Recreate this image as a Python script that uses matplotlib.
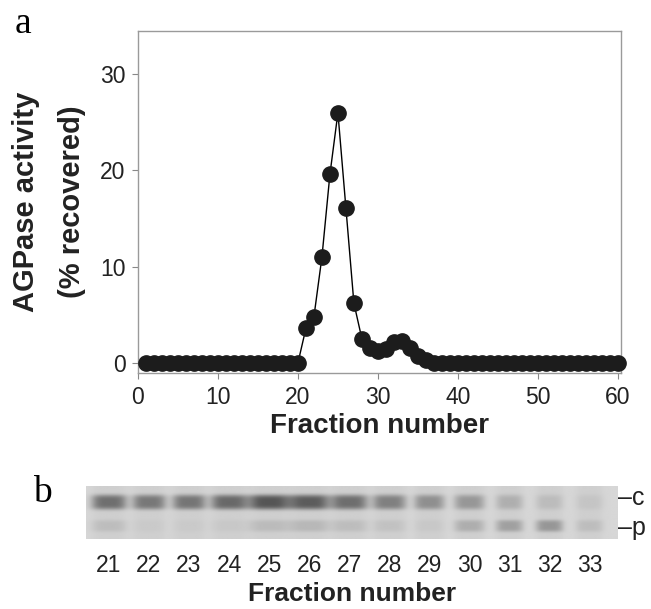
import numpy as np
import matplotlib.pyplot as plt

plt.rcParams['font.family'] = ['Liberation Sans', 'DejaVu Sans']

# Panel a: AGPase activity per fraction
fractions = list(range(1, 61))
activity = [0.0] * 20 + [3.6, 4.8, 11.0, 19.6, 26.0, 16.1, 6.2, 2.5, 1.5, 1.2,
                         1.4, 2.2, 2.3, 1.5, 0.7, 0.25] + [0.0] * 24

# Panel b: gel lanes and relative band strengths
lanes = list(range(21, 34))
band_c = [0.75, 0.68, 0.70, 0.80, 0.95, 0.90, 0.76, 0.62, 0.50, 0.44, 0.25, 0.15, 0.08]
band_p = [0.18, 0.05, 0.05, 0.07, 0.20, 0.24, 0.18, 0.13, 0.07, 0.34, 0.48, 0.58, 0.18]
band_w = [0.44, 0.42, 0.42, 0.46, 0.52, 0.50, 0.46, 0.42, 0.38, 0.38, 0.34, 0.34, 0.34]

fig = plt.figure(figsize=(6.51, 6.09), dpi=100)

# ---- panel a
ax = fig.add_axes([138/651, 1 - 373/609, 483/651, 342/609])
ax.plot(fractions, activity, color='black', lw=1, marker='o', ms=11,
        mfc='#1c1c1c', mec='#1c1c1c', clip_on=False, zorder=3)
ax.set_xlim(0, 60.4)
ax.set_ylim(-1.05, 34.5)
ax.set_xticks(range(0, 61, 10))
ax.set_yticks(range(0, 31, 10))
for s in ax.spines.values():
    s.set_color('#9a9a9a')
    s.set_linewidth(1)
ax.tick_params(direction='out', length=4, color='#888888', labelsize=16.5,
               labelcolor='#222222', pad=5)
ax.set_xlabel('Fraction number', fontsize=20, fontweight='bold', color='#222222', labelpad=3)
fig.text(49/651, 1 - 202/609, 'AGPase activity\n(% recovered)', rotation=90,
         ha='center', va='center', fontsize=21, fontweight='bold', color='#222222',
         linespacing=1.85)

fig.text(15/651, 1 - 33/609, 'a', family='Liberation Serif', fontsize=27, va='baseline')
fig.text(33/651, 1 - 502/609, 'b', family='Liberation Serif', fontsize=27, va='baseline')

# ---- panel b (gel)
gx = fig.add_axes([86/651, 1 - 539/609, 532/651, 53/609])
x0, x1 = 20.43, 33.7
xs = np.linspace(x0, x1, 600)
ys = np.linspace(0, 53, 80)
X, Y = np.meshgrid(xs, ys)
img = np.full(X.shape, 0.84)
for lane, c, p, w in zip(lanes, band_c, band_p, band_w):
    gxm = np.exp(-((X - lane) / w) ** 4)
    img -= 0.50 * c * gxm * np.exp(-((Y - 16) / 7.5) ** 4)
    img -= 0.38 * p * gxm * np.exp(-((Y - 40) / 6.0) ** 4)
    img -= 0.03 * gxm
gx.imshow(img, cmap='gray', vmin=0, vmax=1, extent=[x0, x1, 53, 0],
          aspect='auto', interpolation='bilinear')
gx.set_xlim(x0, x1)
gx.set_ylim(53, 0)
for s in gx.spines.values():
    s.set_visible(False)
gx.set_yticks([])
gx.set_xticks(lanes)
gx.tick_params(axis='x', length=0, labelsize=16.5, labelcolor='#222222', pad=11)
fig.text(352/651, 3/609, 'Fraction number', ha='center', va='bottom',
         fontsize=19, fontweight='bold', color='#222222')
gx.text(1.0, 12, '\u2013c', transform=gx.get_yaxis_transform(), fontsize=18,
        va='center', ha='left', color='#222222')
gx.text(1.0, 42, '\u2013p', transform=gx.get_yaxis_transform(), fontsize=18,
        va='center', ha='left', color='#222222')

fig.savefig('out.png', dpi=100)
